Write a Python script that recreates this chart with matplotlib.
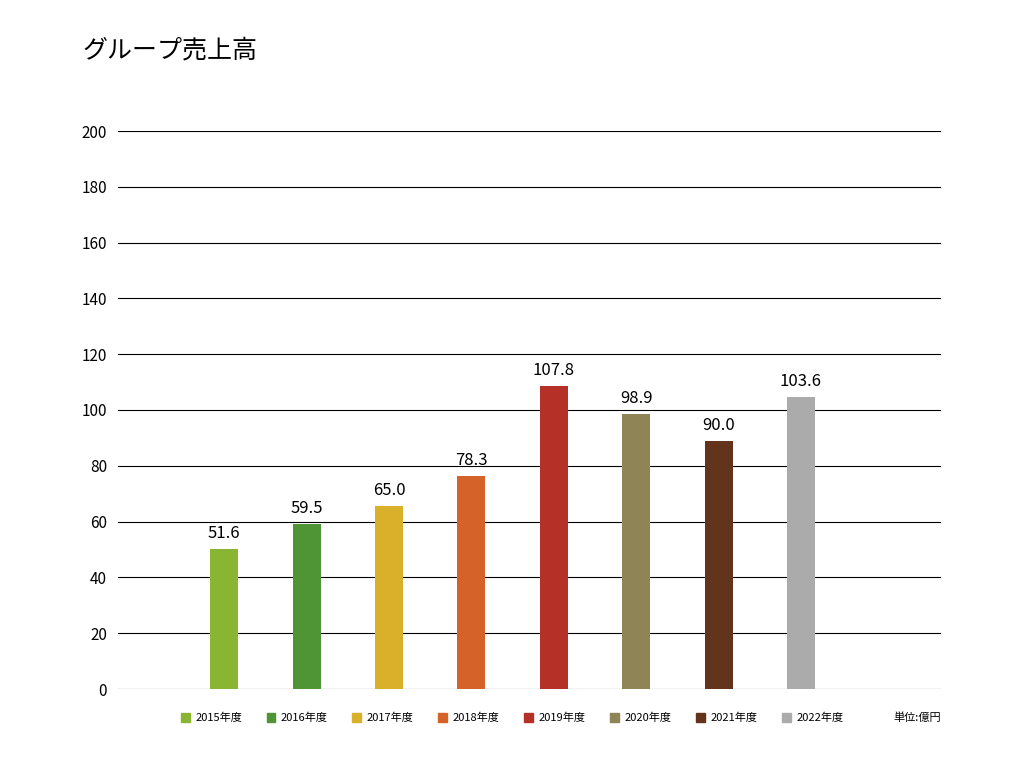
import matplotlib
matplotlib.use("Agg")
import matplotlib.pyplot as plt
from matplotlib.patches import Patch

plt.rcParams["font.family"] = ["Noto Sans CJK JP"]

years = ["2015年度", "2016年度", "2017年度", "2018年度", "2019年度", "2020年度", "2021年度", "2022年度"]
values = [51.6, 59.5, 65.0, 78.3, 107.8, 98.9, 90.0, 103.6]
heights = [50.2, 59.2, 65.6, 76.3, 108.6, 98.4, 89.0, 104.8]
colors = ["#8ab533", "#4f9535", "#d8b02a", "#d56228", "#b53026", "#8e8455", "#62341c", "#ababab"]
yticks = [0, 20, 40, 60, 80, 100, 120, 140, 160, 180, 200]

fig = plt.figure(figsize=(10.24, 7.6), dpi=100)
ax = fig.add_axes([118/1024, 1-689/760, (941-118)/1024, (689-131)/760])
x = list(range(len(years)))
ax.bar(x, heights, width=0.34, color=colors, zorder=3)
for xi, h, v in zip(x, heights, values):
    ax.text(xi, h + 2.5, f"{v:.1f}", ha="center", va="bottom", fontsize=12)
ax.set_xlim(-1.29, 8.70)
ax.set_ylim(0, 200)
ax.set_yticks(yticks)
ax.grid(axis="y", color="black", linewidth=0.8, zorder=0)
for s in ax.spines.values():
    s.set_visible(False)
ax.tick_params(axis="y", length=0, labelsize=11, pad=8)
ax.set_xticks([])
fig.text(83/1024, 1-50/760, "グループ売上高", fontsize=18, va="center")
handles = [Patch(color=c, label=y) for c, y in zip(colors, years)]
fig.legend(handles=handles, loc="center", bbox_to_anchor=(512/1024, 1-718/760), ncol=8,
           frameon=False, fontsize=8, handlelength=0.8, handleheight=0.8, columnspacing=2.2, handletextpad=0.5)
fig.text(941/1024, 1-718/760, "単位:億円", fontsize=8, ha="right", va="center")
fig.savefig("out.png")
